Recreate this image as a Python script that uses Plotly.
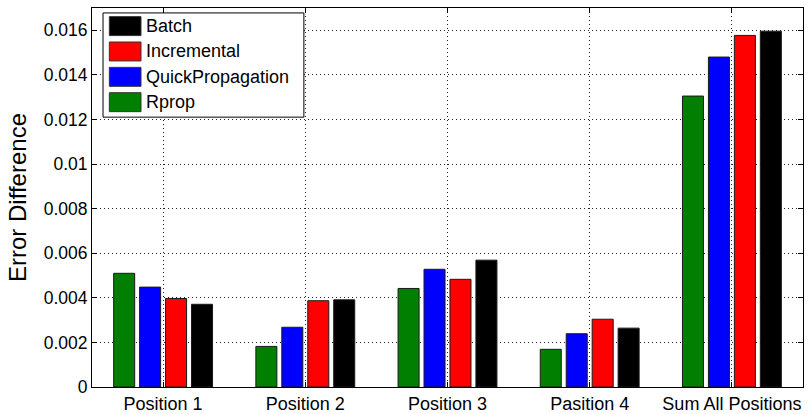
import plotly.graph_objects as go

categories = ["Position 1", "Position 2", "Position 3", "Pasition 4", "Sum All Positions"]

rprop = [0.00510, 0.00182, 0.00442, 0.00169, 0.01305]
quickprop = [0.00448, 0.00268, 0.00528, 0.00239, 0.01480]
incremental = [0.00397, 0.00387, 0.00483, 0.00304, 0.01577]
batch = [0.00371, 0.00391, 0.00569, 0.00264, 0.01596]

series_names = ["Rprop", "QuickPropagation", "Incremental", "Batch"]
series_values = [rprop, quickprop, incremental, batch]
series_colors = ["#007f00", "#0000ff", "#ff0000", "#000000"]

y_ticks = [0, 0.002, 0.004, 0.006, 0.008, 0.01, 0.012, 0.014, 0.016]

FONT = "Liberation Sans, Arial, sans-serif"

fig = go.Figure()
for name, vals, col in zip(series_names, series_values, series_colors):
    fig.add_trace(go.Bar(
        x=categories, y=vals, name=name,
        marker=dict(color=col, line=dict(color="#1a1a1a", width=1)),
        showlegend=False,
    ))

# custom MATLAB-like legend (reverse order: Batch first)
x0, x1 = 0.0155, 0.298
top, bottom = 0.987, 0.712
fig.add_shape(type="rect", xref="paper", yref="paper", x0=x0, x1=x1, y0=bottom, y1=top,
              line=dict(color="black", width=1), fillcolor="white", layer="above")
row_h = (top - bottom) / 4.11
for i, (name, col) in enumerate(zip(series_names[::-1], series_colors[::-1])):
    yc = top - row_h * (i + 0.52)
    fig.add_shape(type="rect", xref="paper", yref="paper", x0=0.0244, x1=0.0689,
                  y0=yc - 0.025, y1=yc + 0.025, fillcolor=col,
                  line=dict(color="#333333", width=1), layer="above")
    fig.add_annotation(xref="paper", yref="paper", x=0.0735, y=yc, text=name,
                       showarrow=False, xanchor="left", yanchor="middle",
                       font=dict(family=FONT, size=18, color="black"))

fig.update_layout(
    width=809, height=414,
    margin=dict(l=92, r=6, t=8, b=27),
    paper_bgcolor="white", plot_bgcolor="white",
    barmode="group", bargap=0.27, bargroupgap=0.19,
    font=dict(family=FONT, size=17, color="black"),
)
fig.update_xaxes(
    range=[-0.5, 4.5], showline=True, linecolor="black", linewidth=1, mirror="ticks",
    ticks="inside", ticklen=5, tickcolor="black", automargin=False,
    showgrid=True, gridcolor="#222222", griddash="1px,3px", gridwidth=1,
    tickfont=dict(family=FONT, size=18),
)
fig.update_yaxes(
    range=[0, 0.017], tickvals=y_ticks, tickformat="~g",
    showline=True, linecolor="black", linewidth=1, mirror="ticks",
    ticks="inside", ticklen=5, tickcolor="black", automargin=False,
    showgrid=True, gridcolor="#222222", griddash="1px,3px", gridwidth=1,
    zeroline=False, tickfont=dict(family=FONT, size=17.5),
    title=dict(text="Error Difference", font=dict(family=FONT, size=24), standoff=10),
)

fig.write_html("out.html", config={"displayModeBar": False},
               post_script="document.body.style.margin='0px';document.body.style.overflow='hidden';")
